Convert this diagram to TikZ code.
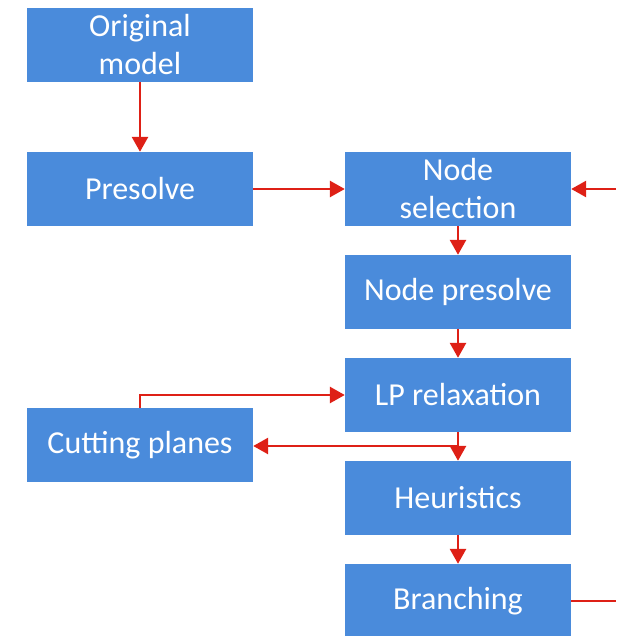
\documentclass[tikz,border=0pt]{standalone}
\usepackage{fontspec}
\setmainfont{Carlito}
\usetikzlibrary{arrows.meta}
\definecolor{boxblue}{RGB}{74,139,219}
\definecolor{flowred}{RGB}{222,32,22}
\tikzset{
  stage/.style={fill=boxblue, text=white, minimum width=226pt, minimum height=74pt,
    inner sep=0pt, align=center, font=\fontsize{32}{38}\selectfont},
  flow/.style={draw=flowred, line width=2.8pt, -{Triangle[length=15pt,width=16pt]}},
}
\begin{document}
\begin{tikzpicture}[x=1pt, y=-1pt]
        \useasboundingbox (0,0) rectangle (616,636);
        \node[stage] (orig) at (140,45) {Original\\model};
        \node[stage] (presolve) at (140,189) {Presolve};
        \node[stage] (nodesel) at (458,189) {Node\\selection};
        \node[stage] (nodepre) at (458,292) {Node presolve};
        \node[stage] (lp) at (458,395) {LP relaxation};
        \node[stage] (cut) at (140,445) {Cutting planes};
        \node[stage] (heur) at (458,498) {Heuristics};
        \node[stage] (branch) at (458,601) {Branching};
        \coordinate (loopin) at (616,189);
        \coordinate (loopout) at (616,601);
        \coordinate (split) at (458,446);
        \draw[flow] (orig) -- (presolve);
        \draw[flow] (presolve) -- (nodesel);
        \draw[flow] (loopin) -- (nodesel);
        \draw[flow] (nodesel) -- (nodepre);
        \draw[flow] (nodepre) -- (lp);
        \draw[flow] (cut.north) |- (lp.west);
        \draw[flow] (lp) -- (heur);
        \draw[flow] (split) -- (split -| cut.east);
        \draw[flow] (heur) -- (branch);
        \draw[flow, -] (branch.east) -- (loopout);
\end{tikzpicture}
\end{document}
